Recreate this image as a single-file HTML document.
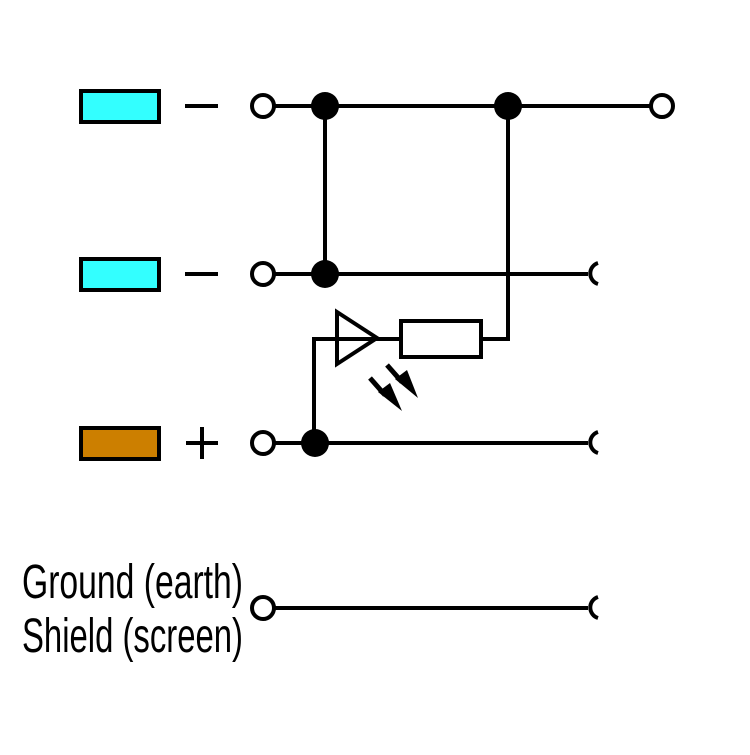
<!DOCTYPE html>
<html><head><style>body{margin:0;background:#fff}</style></head><body>
<svg width="750" height="750" viewBox="0 0 750 750" xmlns="http://www.w3.org/2000/svg">
<g stroke="#000" stroke-width="4" fill="none">
<rect x="81" y="91" width="78" height="31" fill="#33ffff"/>
<rect x="81" y="259" width="78" height="31" fill="#33ffff"/>
<rect x="81" y="428" width="78" height="31" fill="#cc7f00"/>
<line x1="185" y1="106" x2="218" y2="106"/>
<line x1="185" y1="274" x2="218" y2="274"/>
<line x1="186" y1="443" x2="218" y2="443"/>
<line x1="202" y1="427" x2="202" y2="459"/>
<line x1="275" y1="106" x2="650" y2="106"/>
<line x1="275" y1="274" x2="588" y2="274"/>
<line x1="275" y1="443" x2="588" y2="443"/>
<line x1="275" y1="608" x2="588" y2="608"/>
<line x1="325" y1="106" x2="325" y2="274"/>
<polyline points="508,106 508,339 481,339"/>
<polyline points="314,443 314,339 401,339"/>
<rect x="401" y="321" width="80" height="36" fill="#fff"/>
<polygon points="337,312 377,338 337,364"/>
<circle cx="263" cy="106" r="11" fill="#fff"/>
<circle cx="263" cy="274" r="11" fill="#fff"/>
<circle cx="263" cy="443" r="11" fill="#fff"/>
<circle cx="263" cy="608" r="11" fill="#fff"/>
<circle cx="662" cy="106" r="11" fill="#fff"/>
<path d="M598 263 A11 11 0 0 0 598 284"/>
<path d="M598 432 A11 11 0 0 0 598 453"/>
<path d="M598 597 A11 11 0 0 0 598 618"/>
<line x1="370" y1="378" x2="385" y2="395" stroke-width="5"/>
<line x1="387" y1="365" x2="402" y2="382" stroke-width="5"/>
</g>
<g fill="#000">
<circle cx="325" cy="106" r="14"/>
<circle cx="508" cy="106" r="14"/>
<circle cx="325" cy="274" r="14"/>
<circle cx="315" cy="443" r="14"/>
<polygon points="378,392 390,383 402,411"/>
<polygon points="395,379 407,370 418,398"/>
</g>
<g font-family="Liberation Sans, sans-serif" font-size="48" fill="#000">
<text x="22" y="598" textLength="221" lengthAdjust="spacingAndGlyphs">Ground (earth)</text>
<text x="22" y="652" textLength="221" lengthAdjust="spacingAndGlyphs">Shield (screen)</text>
</g>
</svg>
</body></html>
